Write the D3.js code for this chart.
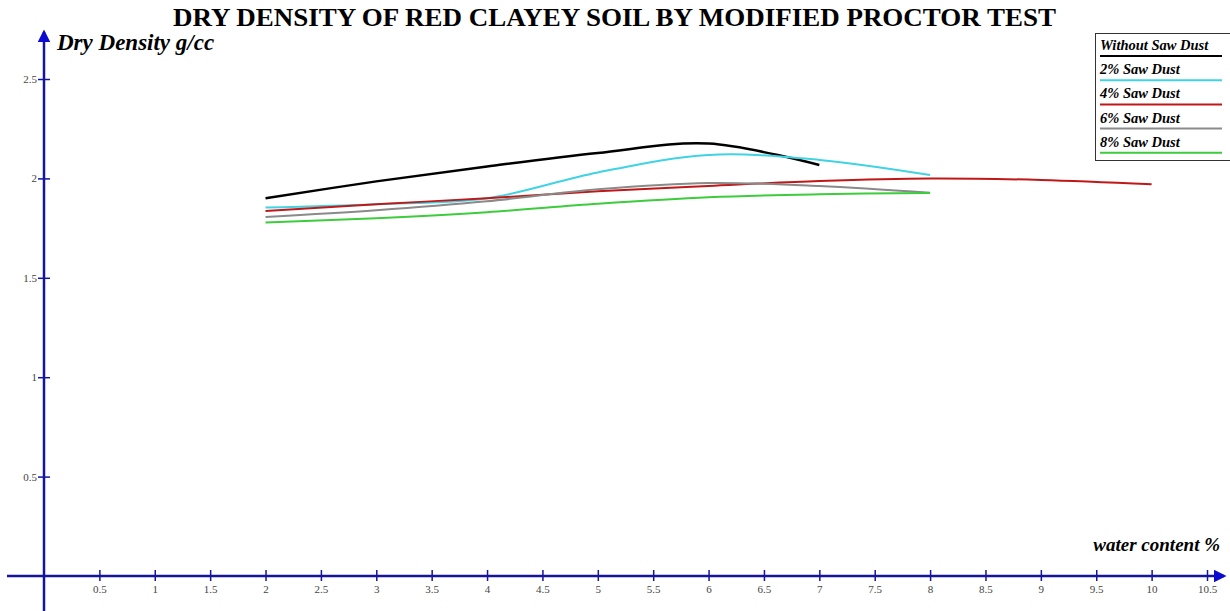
<!DOCTYPE html>
<html>
<head>
<meta charset="utf-8">
<script src="https://cdn.jsdelivr.net/npm/d3@7"></script>
<style>
  body { margin: 0; background: #fff; }
  svg { display: block; }
</style>
</head>
<body>
<div id="chart"></div>
<script>
// water content (%)
var wc = [2, 3, 4, 5, 6, 7, 8, 9, 10];

// dry density g/cc for each mix
var without = [1.90, 1.985, 2.06, 2.128, 2.175, 2.067];
var saw2 = [1.853, 1.87, 1.90, 2.03, 2.118, 2.093, 2.017];
var saw4 = [1.836, 1.87, 1.90, 1.935, 1.962, 1.987, 2.0, 1.992, 1.97];
var saw6 = [1.806, 1.84, 1.885, 1.945, 1.977, 1.962, 1.928];
var saw8 = [1.778, 1.80, 1.83, 1.872, 1.905, 1.92, 1.927];

var seriesNames = ["Without Saw Dust", "2% Saw Dust", "4% Saw Dust", "6% Saw Dust", "8% Saw Dust"];
var seriesColors = ["#000000", "#3fd3e3", "#c01818", "#8a8a8a", "#3ccc3c"];

var xTicks = [0.5, 1, 1.5, 2, 2.5, 3, 3.5, 4, 4.5, 5, 5.5, 6, 6.5, 7, 7.5, 8, 8.5, 9, 9.5, 10, 10.5];
var yTicks = [0.5, 1, 1.5, 2, 2.5];

var width = 1230, height = 611;
var axisColor = "#14149e";

var svg = d3.select("#chart")
  .append("svg")
    .attr("width", width)
    .attr("height", height);

// scales
var x = d3.scaleLinear()
  .domain([0, 10.5])
  .range([44, 1207]);
var y = d3.scaleLinear()
  .domain([0, 2.5])
  .range([576, 79]);

// title
svg.append("text")
  .attr("x", 173)
  .attr("y", 26)
  .attr("textLength", 883)
  .attr("lengthAdjust", "spacingAndGlyphs")
  .style("font-family", "'Liberation Serif', 'Times New Roman', serif")
  .style("font-weight", "bold")
  .style("font-size", "25px")
  .text("DRY DENSITY OF RED CLAYEY SOIL BY MODIFIED PROCTOR TEST");

// arrow heads
var defs = svg.append("defs");
defs.append("marker")
    .attr("id", "arrow")
    .attr("viewBox", "0 0 10 10")
    .attr("refX", 8)
    .attr("refY", 5)
    .attr("markerWidth", 5)
    .attr("markerHeight", 5)
    .attr("markerUnits", "strokeWidth")
    .attr("orient", "auto")
  .append("path")
    .attr("d", "M0,0 L10,5 L0,10 z")
    .attr("fill", "#0a0ad0");

// x axis
var xAxis = svg.append("g")
  .attr("transform", "translate(0," + y(0) + ")")
  .call(d3.axisBottom(x).tickValues(xTicks).tickSizeInner(6).tickSizeOuter(0)
    .tickFormat(function(d) { return d; }));
xAxis.select(".domain").remove();
xAxis.selectAll(".tick line")
  .attr("y1", -6)
  .attr("y2", 5)
  .attr("stroke", axisColor)
  .attr("stroke-width", 1.5);
xAxis.selectAll(".tick text")
  .attr("y", 9)
  .attr("fill", "#444")
  .style("font-family", "'Liberation Serif', serif")
  .style("font-size", "11px");

// y axis
var yAxis = svg.append("g")
  .attr("transform", "translate(" + x(0) + ",0)")
  .call(d3.axisLeft(y).tickValues(yTicks).tickSizeInner(6).tickSizeOuter(0)
    .tickFormat(function(d) { return d; }));
yAxis.select(".domain").remove();
yAxis.selectAll(".tick line")
  .attr("x1", -6)
  .attr("x2", 6)
  .attr("stroke", axisColor)
  .attr("stroke-width", 1.5);
yAxis.selectAll(".tick text")
  .attr("x", -7)
  .attr("fill", "#444")
  .style("font-family", "'Liberation Serif', serif")
  .style("font-size", "11px");

// axis lines with arrows
svg.append("line")
  .attr("x1", 7).attr("x2", 1224)
  .attr("y1", y(0)).attr("y2", y(0))
  .attr("stroke", axisColor)
  .attr("stroke-width", 2.5)
  .attr("marker-end", "url(#arrow)");
svg.append("line")
  .attr("x1", x(0)).attr("x2", x(0))
  .attr("y1", 611).attr("y2", 32)
  .attr("stroke", axisColor)
  .attr("stroke-width", 2.5)
  .attr("marker-end", "url(#arrow)");

// axis titles
svg.append("text")
  .attr("x", 57)
  .attr("y", 50)
  .style("font-family", "'Liberation Serif', serif")
  .style("font-weight", "bold")
  .style("font-style", "italic")
  .style("font-size", "23px")
  .text("Dry Density g/cc");
svg.append("text")
  .attr("x", 1220)
  .attr("y", 551)
  .attr("text-anchor", "end")
  .style("font-family", "'Liberation Serif', serif")
  .style("font-weight", "bold")
  .style("font-style", "italic")
  .style("font-size", "19px")
  .text("water content %");

// curves
var allSeries = [without, saw2, saw4, saw6, saw8];
var line = d3.line()
  .x(function(d, i) { return x(wc[i]); })
  .y(function(d) { return y(d); })
  .curve(d3.curveCatmullRom);

svg.append("g")
  .selectAll("path")
  .data(allSeries)
  .enter()
  .append("path")
    .attr("d", line)
    .attr("fill", "none")
    .attr("stroke", function(d, i) { return seriesColors[i]; })
    .attr("stroke-width", function(d, i) { return i == 0 ? 2.5 : 2; });

// legend
var legend = svg.append("g");
legend.append("rect")
  .attr("x", 1095.5)
  .attr("y", 33.5)
  .attr("width", 140)
  .attr("height", 127)
  .attr("fill", "#fff")
  .attr("stroke", "#333")
  .attr("stroke-width", 1);

var rows = legend.selectAll(".row")
  .data(seriesNames)
  .enter()
  .append("g")
    .attr("class", "row")
    .attr("transform", function(d, i) { return "translate(1100," + (50 + i * 24.2) + ")"; });
rows.append("text")
  .attr("x", 0)
  .attr("y", 0)
  .style("font-family", "'Liberation Serif', serif")
  .style("font-weight", "bold")
  .style("font-style", "italic")
  .style("font-size", "14.5px")
  .text(function(d) { return d; });
rows.append("line")
  .attr("x1", 0).attr("x2", 122)
  .attr("y1", 6).attr("y2", 6)
  .attr("stroke", function(d, i) { return seriesColors[i]; })
  .attr("stroke-width", 2);
</script>
</body>
</html>
